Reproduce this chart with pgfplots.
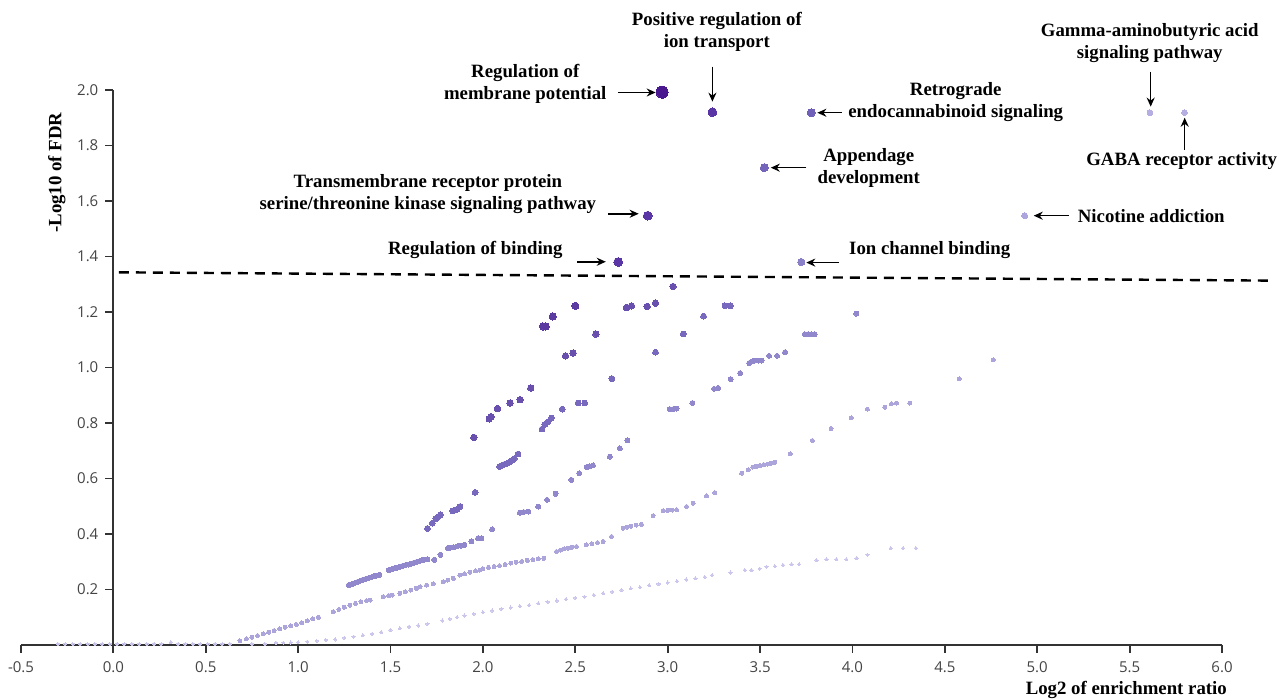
\documentclass[border=0pt]{standalone}
\usepackage{fontspec}
\setmainfont{Liberation Serif}
\newfontfamily\tickfont{Open Sans}
\usepackage{pgfplots}
\pgfplotsset{compat=1.18}
\usetikzlibrary{arrows.meta}
\definecolor{axisgray}{HTML}{333333}
\definecolor{ticktext}{HTML}{444444}
\definecolor{cA}{HTML}{4A188E}
\definecolor{cB}{HTML}{5A35A5}
\definecolor{c0}{HTML}{5B3AA2}
\definecolor{c1}{HTML}{6950AF}
\definecolor{c2}{HTML}{7868BE}
\definecolor{c3}{HTML}{9187CD}
\definecolor{c4}{HTML}{ABA5DC}
\definecolor{c5}{HTML}{CAC6EC}
\definecolor{cRet}{HTML}{7060B8}
\definecolor{cApp}{HTML}{7565BA}
\definecolor{cIon}{HTML}{8A80C8}
\definecolor{cNic}{HTML}{ADA5DD}
\definecolor{cGab}{HTML}{B5AEE2}
\newcommand\lab{\bfseries\fontsize{9.4}{11}\selectfont}
\pgfplotsset{dots/.style={only marks, mark=*, color=#1, mark options={fill=#1, draw=#1, line width=0pt}}}
\begin{document}
\begin{tikzpicture}
\useasboundingbox (0,0) rectangle (639.5pt,349.5pt);
\begin{axis}[
  at={(10.5pt,27pt)}, anchor=south west,
  scale only axis, width=600.5pt, height=277.5pt,
  xmin=-0.5, xmax=6, ymin=0, ymax=2,
  clip=false, axis on top,
  axis x line=bottom, axis y line=middle,
  hide obscured x ticks=false, hide obscured y ticks=false,
  axis line style={-, line width=0.9pt, color=axisgray},
  tick style={line width=0.9pt, color=axisgray},
  major tick length=4pt, tick align=outside,
  xtick={-0.5,0,0.5,1,1.5,2,2.5,3,3.5,4,4.5,5,5.5,6},
  xticklabels={-0.5,0.0,0.5,1.0,1.5,2.0,2.5,3.0,3.5,4.0,4.5,5.0,5.5,6.0},
  ytick={0.2,0.4,0.6,0.8,1.0,1.2,1.4,1.6,1.8,2.0},
  yticklabels={0.2,0.4,0.6,0.8,1.0,1.2,1.4,1.6,1.8,2.0},
  ticklabel style={font=\tickfont\fontsize{7.5}{9}\selectfont, text=ticktext},
  xticklabel style={yshift=-1pt},
  minor tick num=0,
]
% near-zero stream
\addplot[dots=c5, mark size=0.8pt] coordinates {
(-0.30,0.004)(-0.26,0.004)(-0.22,0.004)(-0.18,0.004)(-0.14,0.004)(-0.10,0.004)(-0.06,0.004)(-0.02,0.004)
(0.02,0.004)(0.06,0.004)(0.10,0.004)(0.14,0.004)(0.18,0.004)(0.22,0.004)(0.26,0.004)(0.31,0.010)(0.35,0.004)
(0.39,0.004)(0.43,0.004)(0.47,0.004)(0.51,0.004)(0.55,0.004)(0.59,0.004)(0.63,0.004)(0.75,0.004)(0.82,0.004)};
% band 5 (lowest)
\addplot[dots=c5, mark size=0.8pt] coordinates {
(0.88,0.008)(0.92,0.008)(0.96,0.009)(1.00,0.010)(1.05,0.012)(1.10,0.015)(1.15,0.018)(1.20,0.020)(1.25,0.026)
(1.30,0.030)(1.35,0.035)(1.40,0.040)(1.45,0.046)(1.50,0.054)(1.55,0.060)(1.60,0.066)(1.65,0.070)(1.70,0.076)
(1.78,0.088)(1.82,0.094)(1.86,0.100)(1.90,0.106)(1.95,0.112)(2.00,0.118)(2.05,0.124)(2.10,0.130)(2.15,0.135)
(2.20,0.140)(2.25,0.144)(2.30,0.150)(2.35,0.155)(2.40,0.160)(2.45,0.165)(2.50,0.170)(2.55,0.174)(2.60,0.180)
(2.65,0.186)(2.70,0.192)(2.75,0.198)(2.80,0.204)(2.85,0.208)(2.90,0.215)(2.95,0.220)(3.00,0.225)(3.05,0.230)
(3.10,0.236)(3.15,0.240)(3.20,0.245)(3.24,0.252)(3.34,0.261)(3.417,0.270)(3.453,0.270)(3.498,0.275)
(3.535,0.282)(3.58,0.284)(3.624,0.288)(3.67,0.291)(3.711,0.291)(3.805,0.306)(3.859,0.309)(3.913,0.309)
(3.967,0.309)(4.022,0.313)(4.081,0.325)(4.207,0.349)(4.274,0.349)(4.343,0.349)};
% band 4
\addplot[dots=c4, mark size=1pt] coordinates {
(0.685,0.015)(0.72,0.022)(0.75,0.028)(0.78,0.034)(0.81,0.040)(0.84,0.046)(0.87,0.052)(0.90,0.058)(0.93,0.064)
(0.96,0.069)(0.99,0.074)(1.02,0.080)(1.05,0.087)(1.08,0.094)(1.11,0.100)(1.19,0.120)(1.22,0.128)(1.25,0.136)
(1.28,0.143)(1.31,0.150)(1.34,0.156)(1.37,0.160)(1.39,0.162)(1.46,0.174)(1.49,0.178)(1.51,0.180)(1.55,0.186)
(1.58,0.192)(1.61,0.198)(1.64,0.204)(1.66,0.210)(1.695,0.216)(1.73,0.220)(1.785,0.228)(1.81,0.234)(1.84,0.240)
(1.875,0.252)(1.90,0.256)(1.93,0.262)(1.96,0.267)(1.983,0.270)(2.00,0.275)(2.03,0.280)(2.06,0.283)(2.09,0.286)
(2.12,0.290)(2.15,0.295)(2.18,0.298)(2.21,0.301)(2.24,0.305)(2.27,0.308)(2.30,0.310)(2.33,0.312)
(2.398,0.337)(2.42,0.342)(2.44,0.346)(2.46,0.349)(2.48,0.352)(2.506,0.355)(2.56,0.361)(2.59,0.365)(2.62,0.369)
(2.65,0.373)(2.696,0.391)(2.759,0.421)(2.78,0.425)(2.80,0.428)(2.83,0.432)(2.858,0.435)(2.921,0.466)
(2.975,0.484)(3.00,0.485)(3.025,0.486)(3.048,0.487)(3.102,0.499)(3.137,0.511)(3.21,0.537)(3.255,0.549)
(3.40,0.619)(3.435,0.631)(3.46,0.641)(3.48,0.644)(3.50,0.647)(3.52,0.650)(3.54,0.652)(3.56,0.655)(3.58,0.658)
(3.664,0.689)(3.783,0.737)(3.884,0.780)(3.994,0.818)(4.081,0.850)(4.175,0.857)(4.211,0.869)(4.238,0.872)
(4.31,0.872)(4.577,0.959)(4.761,1.027)};
% band 3
\addplot[dots=c3, mark size=1.25pt] coordinates {
(1.274,0.216)(1.29,0.219)(1.305,0.223)(1.32,0.227)(1.335,0.231)(1.35,0.235)(1.365,0.238)(1.38,0.241)
(1.395,0.244)(1.41,0.247)(1.425,0.250)(1.44,0.253)(1.49,0.270)(1.505,0.273)(1.52,0.276)(1.535,0.279)
(1.55,0.282)(1.565,0.285)(1.58,0.288)(1.595,0.290)(1.61,0.293)(1.625,0.296)(1.64,0.299)(1.655,0.302)
(1.67,0.305)(1.685,0.308)(1.70,0.309)(1.737,0.307)(1.77,0.325)(1.81,0.349)(1.825,0.351)(1.84,0.352)
(1.86,0.355)(1.88,0.358)(1.90,0.361)(1.938,0.373)(1.974,0.385)(1.992,0.385)(2.05,0.417)(2.20,0.477)
(2.22,0.479)(2.245,0.481)(2.299,0.499)(2.347,0.523)(2.393,0.545)(2.479,0.595)(2.521,0.619)(2.561,0.641)
(2.578,0.644)(2.596,0.647)(2.687,0.679)(2.741,0.709)(2.782,0.737)(3.011,0.850)(3.03,0.850)(3.048,0.852)
(3.134,0.872)(3.251,0.923)(3.273,0.926)(3.341,0.958)(3.392,0.980)(3.441,1.016)(3.46,1.022)(3.471,1.025)
(3.49,1.025)(3.508,1.025)(3.549,1.042)(3.592,1.042)(3.635,1.055)(3.742,1.120)(3.76,1.120)(3.778,1.120)
(3.796,1.120)(4.021,1.194)};
% band 2
\addplot[dots=c2, mark size=1.45pt] coordinates {
(1.70,0.420)(1.726,0.439)(1.745,0.455)(1.759,0.463)(1.77,0.469)(1.837,0.483)(1.848,0.486)(1.859,0.489)
(1.876,0.499)(1.958,0.550)(2.09,0.643)(2.105,0.648)(2.12,0.652)(2.14,0.658)(2.156,0.665)(2.17,0.672)
(2.19,0.688)(2.32,0.778)(2.335,0.795)(2.353,0.805)(2.371,0.818)(2.429,0.850)(2.515,0.872)(2.551,0.872)
(2.698,0.960)(2.934,1.055)(3.084,1.121)(3.194,1.185)(3.31,1.222)(3.34,1.222)};
% band 1
\addplot[dots=c1, mark size=1.6pt] coordinates {
(1.951,0.748)(2.034,0.815)(2.044,0.823)(2.079,0.852)(2.147,0.872)(2.201,0.884)(2.259,0.926)(2.447,1.042)
(2.488,1.052)(2.611,1.120)(2.777,1.216)(2.804,1.222)(2.889,1.220)(2.934,1.232)(3.029,1.292)};
% band 0
\addplot[dots=c0, mark size=1.8pt] coordinates {
(2.325,1.148)(2.340,1.148)(2.378,1.184)(2.500,1.222)};
% labelled points
\addplot[dots=cA, mark size=3pt] coordinates {(2.970,1.992)};
\addplot[dots=cB, mark size=2.2pt] coordinates {(3.242,1.920)(2.892,1.547)(2.732,1.380)};
\addplot[dots=cRet, mark size=2pt] coordinates {(3.777,1.918)};
\addplot[dots=cApp, mark size=2pt] coordinates {(3.523,1.720)};
\addplot[dots=cIon, mark size=1.8pt] coordinates {(3.723,1.380)};
\addplot[dots=cNic, mark size=1.5pt] coordinates {(4.932,1.547)};
\addplot[dots=cGab, mark size=1.4pt] coordinates {(5.610,1.918)(5.798,1.918)};
% threshold
\addplot[black, line width=1.2pt, dash pattern=on 5pt off 3.5pt] coordinates {(0.03,1.343)(6.27,1.313)};
% arrows
\begin{scope}[line width=0.75pt, -{Stealth[length=4.5pt,width=4pt]}]
\draw (axis cs:2.730,1.991) -- (axis cs:2.935,1.991);
\draw (axis cs:3.242,2.084) -- (axis cs:3.242,1.958);
\draw (axis cs:3.942,1.918) -- (axis cs:3.810,1.918);
\draw (axis cs:3.750,1.720) -- (axis cs:3.558,1.720);
\draw (axis cs:2.676,1.554) -- (axis cs:2.843,1.554);
\draw (axis cs:2.511,1.381) -- (axis cs:2.665,1.381);
\draw (axis cs:3.926,1.378) -- (axis cs:3.750,1.378);
\draw (axis cs:5.170,1.547) -- (axis cs:4.981,1.547);
\draw (axis cs:5.614,2.066) -- (axis cs:5.614,1.940);
\draw (axis cs:5.798,1.785) -- (axis cs:5.798,1.900);
\end{scope}
% labels
\node[font=\lab, align=center] at (axis cs:2.229,2.022) {Regulation of\\membrane potential};
\node[font=\lab, align=center] at (axis cs:3.266,2.209) {Positive regulation of\\ion transport};
\node[font=\lab, align=center] at (axis cs:4.559,1.956) {Retrograde\\endocannabinoid signaling};
\node[font=\lab, align=center] at (axis cs:4.088,1.720) {Appendage\\development};
\node[font=\lab, align=center] at (axis cs:1.702,1.626) {Transmembrane receptor protein\\serine/threonine kinase signaling pathway};
\node[font=\lab] at (axis cs:1.959,1.424) {Regulation of binding};
\node[font=\lab] at (axis cs:4.418,1.424) {Ion channel binding};
\node[font=\lab] at (axis cs:5.617,1.547) {Nicotine addiction};
\node[font=\lab, align=center] at (axis cs:5.609,2.169) {Gamma-aminobutyric acid\\signaling pathway};
\node[font=\lab] at (axis cs:5.782,1.745) {GABA receptor activity};
\node[font=\lab, rotate=90] at (axis cs:-0.306,1.702) {-Log10 of FDR};
\node[font=\lab] at (axis cs:5.482,-0.162) {Log2 of enrichment ratio};
\end{axis}
\end{tikzpicture}
\end{document}
